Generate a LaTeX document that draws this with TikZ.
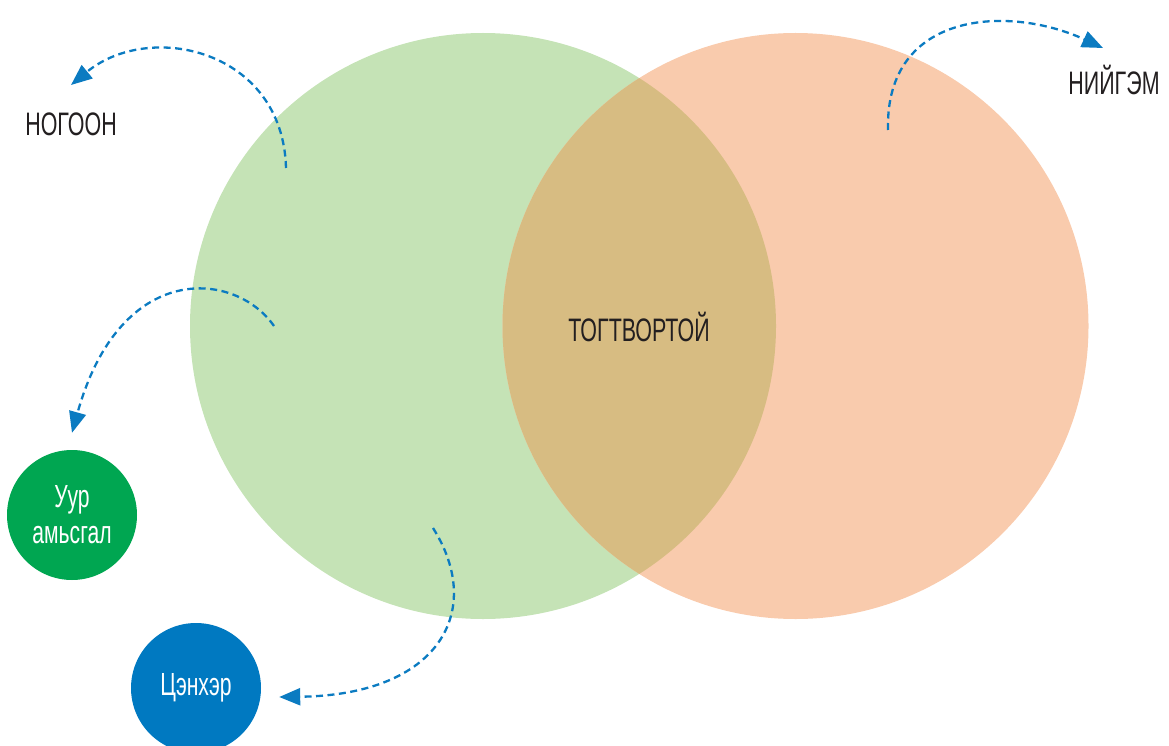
\documentclass[tikz,border=0pt]{standalone}
\usepackage{fontspec}
\setmainfont[FakeStretch=0.66]{Liberation Sans}
\usetikzlibrary{arrows.meta}
\definecolor{lgreen}{HTML}{C5E3B6}
\definecolor{lorange}{HTML}{F9CBAD}
\definecolor{overlapc}{HTML}{D7BC82}
\definecolor{dgreen}{HTML}{00A651}
\definecolor{dblue}{HTML}{0079C1}
\definecolor{arrowblue}{HTML}{0B7BC1}
\definecolor{txt}{HTML}{231F20}
\tikzset{
  bigcirc/.style={circle, inner sep=0pt, minimum size=586pt},
  smallcirc/.style={circle, inner sep=0pt, minimum size=130pt, text=white, font=\fontsize{32}{38}\selectfont, align=center},
  label/.style={text=txt, font=\fontsize{32.5}{36}\selectfont},
  flow/.style={draw=arrowblue, line width=2.3pt, dash pattern=on 7pt off 4.5pt, -{Triangle[length=21pt,width=17pt]}}
}
\begin{document}
\begin{tikzpicture}[x=1pt,y=-1pt]
\useasboundingbox (0,0) rectangle (1169,746);
\node[bigcirc, fill=lgreen] (gc) at (483,326) {};
\node[bigcirc, fill=lorange] (oc) at (795.5,326) {};
\begin{scope}
  \clip (483,326) circle[radius=293pt];
  \fill[overlapc] (795.5,326) circle[radius=293pt];
\end{scope}
\node[label] (center) at (639,327) {ТОГТВОРТОЙ};
\node[label] (nogoon) at (71,124) {НОГООН};
\node[label] (niigem) at (1114,80) {НИЙГЭМ};
\node[smallcirc, fill=dgreen] (uur) at (72,515) {Уур\\[-2pt]амьсгал};
\node[smallcirc, fill=dblue] (ts) at (196,688) {Цэнхэр};
\coordinate (s1) at (286,168);
\coordinate (s2) at (888,130);
\coordinate (s3) at (274,326);
\coordinate (s4) at (433,528);
\draw[flow] (s1) .. controls (283,50) and (150,20) .. ([yshift=39pt]nogoon.center);
\draw[flow] (s2) .. controls (885,10) and (1010,5) .. ([xshift=-11pt,yshift=32pt]niigem.center);
\draw[flow] (s3) .. controls (235,270) and (120,260) .. ([yshift=17pt]uur.north);
\draw[flow] (s4) .. controls (485,610) and (440,695) .. ([xshift=18pt,yshift=-9pt]ts.east);
\end{tikzpicture}
\end{document}
